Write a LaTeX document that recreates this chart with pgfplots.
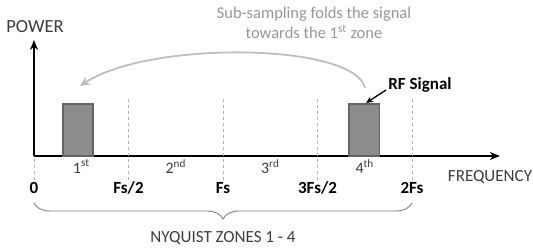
\documentclass[border=0pt]{standalone}
\usepackage{fontspec}
\setmainfont{Carlito}
\usepackage{pgfplots}
\pgfplotsset{compat=1.18}
\usetikzlibrary{arrows.meta,decorations.pathreplacing}
\definecolor{barfill}{RGB}{140,140,140}
\definecolor{baredge}{RGB}{100,100,100}
\definecolor{txtdark}{RGB}{60,60,60}
\definecolor{txtlight}{RGB}{150,150,150}
\definecolor{arrowgray}{RGB}{190,190,190}
\definecolor{dashgray}{RGB}{175,175,175}
\begin{document}
\begin{tikzpicture}[x=1pt,y=1pt]
\path[use as bounding box] (0,0) rectangle (533,248);
\begin{axis}[
  anchor=south west, at={(34pt,92pt)},
  x=94.5pt, y=52pt,
  xmin=0, xmax=4.93, ymin=0, ymax=2.23,
  axis lines=left,
  axis line style={line width=1.6pt, -{Stealth[length=10pt,width=8pt]}},
  xtick={0,1,2,3,4},
  xticklabels={0,Fs/2,Fs,3Fs/2,2Fs},
  ytick=\empty,
  major tick length=0pt,
  xticklabel style={anchor=center, yshift=-32pt, font=\fontsize{17}{20}\selectfont\bfseries, text=black},
  clip=false,
]
% dashed zone boundaries
\draw[dashgray, line width=0.8pt, dash pattern=on 3pt off 3pt] (axis cs:0,-0.46) -- (axis cs:0,0);
\foreach \k in {1,2,3,4}{
  \edef\tmp{\noexpand\draw[dashgray, line width=0.8pt, dash pattern=on 3pt off 3pt] (axis cs:\k,-0.46) -- (axis cs:\k,1.135);}
  \tmp
}
% signal bars
\addplot[fill=barfill, draw=baredge, line width=1.2pt] coordinates {(0.307,0) (0.307,1) (0.624,1) (0.624,0)} -- cycle;
\addplot[fill=barfill, draw=baredge, line width=1.2pt] coordinates {(3.333,0) (3.333,1) (3.66,1) (3.66,0)} -- cycle;
% zone labels
\foreach \z/\s in {0.5/st,1.5/nd,2.5/rd,3.5/th}{
  \edef\tmp{\noexpand\node[txtdark, font=\noexpand\fontsize{16}{18}\noexpand\selectfont] at (axis cs:\z,-0.2) {\noexpand\pgfmathparse{int(\z+0.5)}\noexpand\pgfmathresult\noexpand\textsuperscript{\s}};}
  \tmp
}
\end{axis}
\node[txtdark, font=\fontsize{18.5}{20}\selectfont] at (35,221) {POWER};
\node[txtdark, font=\fontsize{17}{20}\selectfont] at (490,71) {FREQUENCY};
\node[txtdark, font=\fontsize{17}{20}\selectfont] at (223,10) {NYQUIST ZONES 1 - 4};
\node[txtlight, font=\fontsize{16.5}{20}\selectfont, inner sep=0pt, anchor=base] at (314,229) {Sub-sampling folds the signal};
\node[txtlight, font=\fontsize{16.5}{20}\selectfont, inner sep=0pt, anchor=base] at (314,209) {towards the 1\textsuperscript{st} zone};
\node[black, font=\fontsize{17}{20}\selectfont\bfseries] at (420,163) {RF Signal};
% fold arrow
\draw[arrowgray, line width=1.8pt, -{Stealth[length=10pt,width=9pt]}] (365,160) .. controls (355,205) and (150,208) .. (80,162);
% RF arrow
\draw[black, line width=1.3pt, -{Stealth[length=7pt,width=6pt]}] (386,158) -- (366,145);
% brace
\draw[gray, line width=0.9pt, decorate, decoration={brace, mirror, amplitude=16pt}] (34,45) -- (412,45);
\end{tikzpicture}
\end{document}
